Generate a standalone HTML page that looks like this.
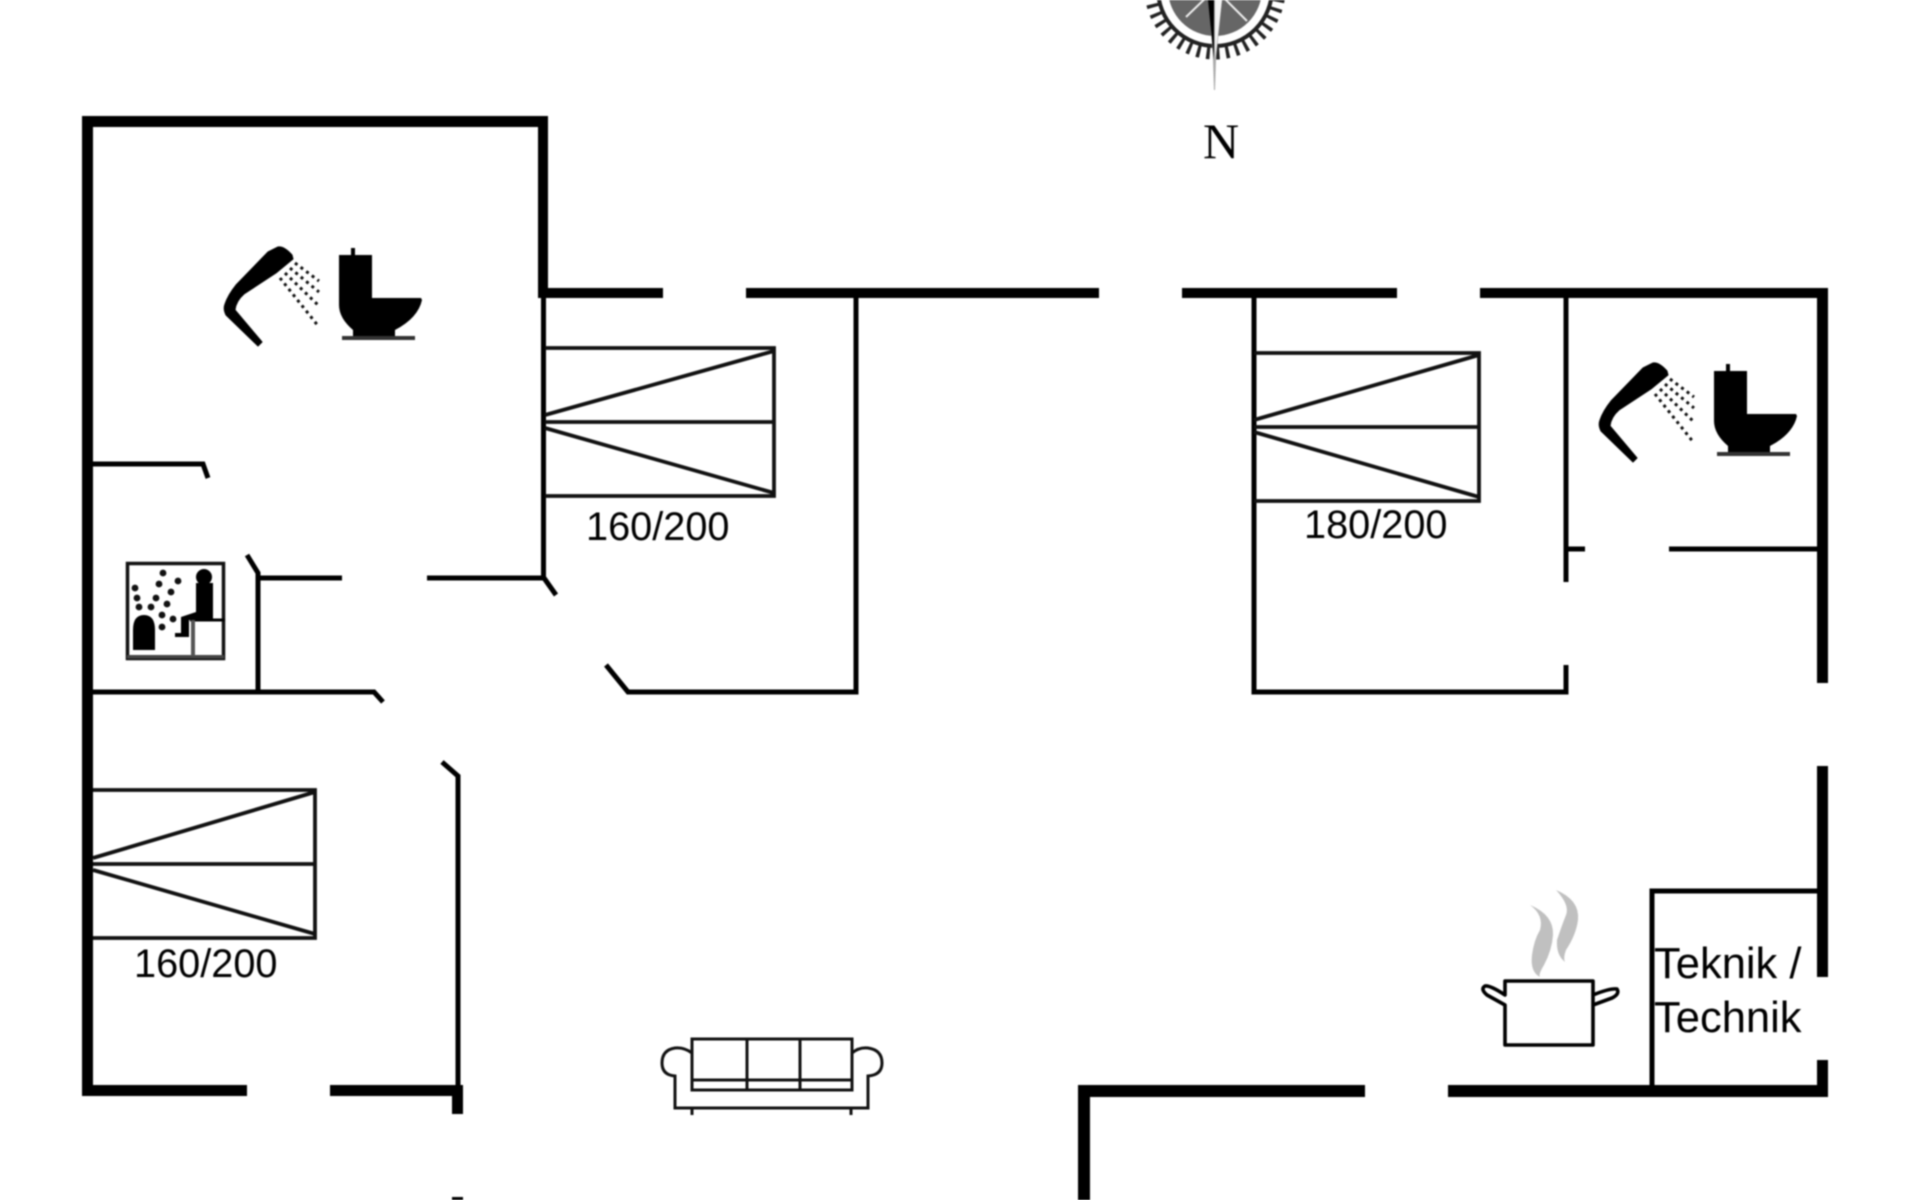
<!DOCTYPE html>
<html>
<head>
<meta charset="utf-8">
<style>
html,body{margin:0;padding:0;background:#fff;width:1920px;height:1200px;overflow:hidden}
svg{display:block;filter:blur(0.8px)}
text{font-family:"Liberation Sans",sans-serif;fill:#000}
</style>
</head>
<body>
<svg width="1920" height="1200" viewBox="0 0 1920 1200" xmlns="http://www.w3.org/2000/svg">
<defs>
<g id="wc">
  <path d="M268,252 L278,247 Q284,246 292,255 L293,259 L276,273 L244,294 Q236,301 235,310 L262,342 L258,346 L226,315 Q223,309 225,304 Q228,295 236,285 Z" fill="#000" stroke="#000" stroke-width="1" stroke-linejoin="round"/>
  <g stroke="#111" stroke-width="3" stroke-dasharray="3 4" fill="none">
    <line x1="295" y1="263" x2="319" y2="281"/>
    <line x1="290" y1="268" x2="319" y2="292"/>
    <line x1="285" y1="273" x2="319" y2="306"/>
    <line x1="280" y1="278" x2="319" y2="327"/>
  </g>
  <path d="M339,255 H351 V248 H355 V255 H372 V298 H421 L422,300 Q418,318 395,330 V336 H353 V330 Q339,318 339,305 Z" fill="#000"/>
  <rect x="342" y="336" width="73" height="4" fill="#333"/>
</g>
</defs>

<!-- compass -->
<g>
  <circle cx="1215" cy="-11" r="64" fill="none" stroke="#222" stroke-width="13" stroke-dasharray="3.4 6.2"/>
  <circle cx="1215" cy="-11" r="57" fill="none" stroke="#222" stroke-width="4"/>
  <circle cx="1215" cy="-11" r="47" fill="#666"/>
  <line x1="1215" y1="-11" x2="1186" y2="17" stroke="#eee" stroke-width="2"/>
  <line x1="1215" y1="-11" x2="1247" y2="21" stroke="#eee" stroke-width="2"/>
  <path d="M1209,0 L1213,60 L1214,90 L1215,90 L1216,60 L1222,0 Z" fill="#aaa"/>
  <path d="M1208,0 L1214,60 L1214,0 Z" fill="#000"/>
  <path d="M1215,0 L1215,60 L1222,0 Z" fill="#f4f4f4"/>
</g>
<text x="1203" y="158" style="font-family:'Liberation Serif',serif;font-size:50px">N</text>

<!-- thick walls -->
<g fill="#000">
  <rect x="82" y="116" width="466" height="11"/>
  <rect x="82" y="116" width="11" height="980"/>
  <rect x="538" y="116" width="10" height="181"/>
  <rect x="538" y="288" width="125" height="10"/>
  <rect x="746" y="288" width="353" height="10"/>
  <rect x="1182" y="288" width="215" height="10"/>
  <rect x="1480" y="288" width="348" height="10"/>
  <rect x="1817" y="288" width="11" height="395"/>
  <rect x="1817" y="766" width="11" height="211"/>
  <rect x="1817" y="1060" width="11" height="37"/>
  <rect x="82" y="1085" width="165" height="11"/>
  <rect x="330" y="1085" width="133" height="11"/>
  <rect x="452" y="1085" width="11" height="29"/>
  <rect x="452" y="1197" width="11" height="3"/>
  <rect x="1078" y="1085" width="287" height="12"/>
  <rect x="1448" y="1085" width="380" height="12"/>
  <rect x="1078" y="1085" width="12" height="115"/>
</g>

<!-- thin walls -->
<g fill="none" stroke="#000" stroke-width="5">
  <line x1="543.5" y1="297" x2="543.5" y2="578"/>
  <polyline points="856,298 856,692 628,692 606,665"/>
  <polyline points="93,464 203,464 208,478"/>
  <polyline points="247,555 258,573 258,692"/>
  <line x1="258" y1="578" x2="342" y2="578"/>
  <line x1="427" y1="578" x2="544" y2="578"/>
  <line x1="544" y1="578" x2="556" y2="595"/>
  <polyline points="93,692 374,692 383,702"/>
  <polyline points="442,762 458,776 458,1085"/>
  <polyline points="1254,298 1254,692 1566,692 1566,665"/>
  <line x1="1566" y1="298" x2="1566" y2="582"/>
  <line x1="1566" y1="549" x2="1585" y2="549"/>
  <line x1="1669" y1="549" x2="1817" y2="549"/>
  <polyline points="1817,891 1652,891 1652,1085"/>
</g>

<!-- beds -->
<g fill="none" stroke="#111" stroke-width="3.8">
  <path d="M545,348 H774 V496 H545 M545,422 H774 M545,415 L774,351 M545,428 L774,493"/>
  <path d="M93,790 H315 V938 H93 M93,864 H315 M93,858 L315,792 M93,870 L315,934"/>
  <path d="M1254,353 H1479 V501 H1254 M1254,427 H1479 M1254,420 L1479,355 M1254,432 L1479,497"/>
</g>

<text x="586" y="540" style="font-size:39.7px">160/200</text>
<text x="134" y="977" style="font-size:39.7px">160/200</text>
<text x="1304" y="538" style="font-size:39.7px">180/200</text>
<text x="1654" y="978" style="font-size:43.5px">Teknik /</text>
<text x="1654" y="1032" style="font-size:43.5px">Technik</text>

<!-- shower + toilet -->
<use href="#wc"/>
<use href="#wc" transform="translate(1375,116)"/>

<!-- sauna -->
<g>
  <rect x="127.5" y="563.5" width="96" height="95" fill="#fff" stroke="#111" stroke-width="3.5"/>
  <rect x="127" y="655" width="97" height="3.5" fill="#444"/>
  <path d="M133,650 V630 Q133,615 144,615 Q155,615 155,630 V650 Z" fill="#000"/>
  <circle cx="204" cy="577" r="8" fill="#000"/>
  <path d="M196,583 H213 V620 H189 V637 H175 V633 H181 V617 L196,612 Z" fill="#000"/>
  <line x1="190" y1="620" x2="225" y2="620" stroke="#000" stroke-width="3"/>
  <line x1="193" y1="620" x2="193" y2="656" stroke="#555" stroke-width="4"/>
  <g fill="#111">
    <circle cx="163" cy="573" r="3.4"/><circle cx="178" cy="581" r="3.4"/><circle cx="159" cy="584" r="3.4"/>
    <circle cx="135" cy="588" r="3.4"/><circle cx="171" cy="592" r="3.4"/><circle cx="137" cy="598" r="3.4"/>
    <circle cx="156" cy="598" r="3.4"/><circle cx="167" cy="604" r="3.4"/><circle cx="139" cy="607" r="3.4"/>
    <circle cx="151" cy="607" r="3.4"/><circle cx="162" cy="615" r="3.4"/><circle cx="173" cy="619" r="3.4"/>
    <circle cx="162" cy="627" r="3.4"/>
  </g>
</g>

<!-- sofa -->
<g fill="none" stroke="#111" stroke-width="3">
  <rect x="692" y="1039" width="160" height="51"/>
  <line x1="747" y1="1039" x2="747" y2="1090"/>
  <line x1="800" y1="1039" x2="800" y2="1090"/>
  <line x1="692" y1="1080" x2="852" y2="1080"/>
  <path d="M692,1053 Q684,1047 675,1048 Q662,1050 662,1063 Q662,1075 675,1076 V1108 H868 V1076 Q882,1075 882,1063 Q882,1050 868,1048 Q859,1047 852,1053"/>
  <line x1="692" y1="1108" x2="692" y2="1115"/>
  <line x1="851" y1="1108" x2="851" y2="1115"/>
</g>

<!-- pot -->
<g>
  <path d="M1505,981 H1593 V1045 H1505 V1005 L1487,995 Q1480,989 1485,986 Q1490,985 1505,995 Z M1593,995 Q1610,988 1617,989 Q1620,994 1612,998 L1593,1005" fill="#fff" stroke="#000" stroke-width="3.6" stroke-linejoin="round"/>
  <path d="M1530,905 Q1554,915 1553,935 Q1552,950 1544,965 Q1538,975 1540,977 Q1530,972 1532,955 Q1534,940 1540,930 Q1544,915 1530,905 Z" fill="#c0c0c0"/>
  <path d="M1556,890 Q1580,900 1578,920 Q1576,935 1566,950 Q1563,958 1565,962 Q1556,955 1557,940 Q1562,925 1566,915 Q1570,905 1556,890 Z" fill="#c0c0c0"/>
</g>
</svg>
</body>
</html>
